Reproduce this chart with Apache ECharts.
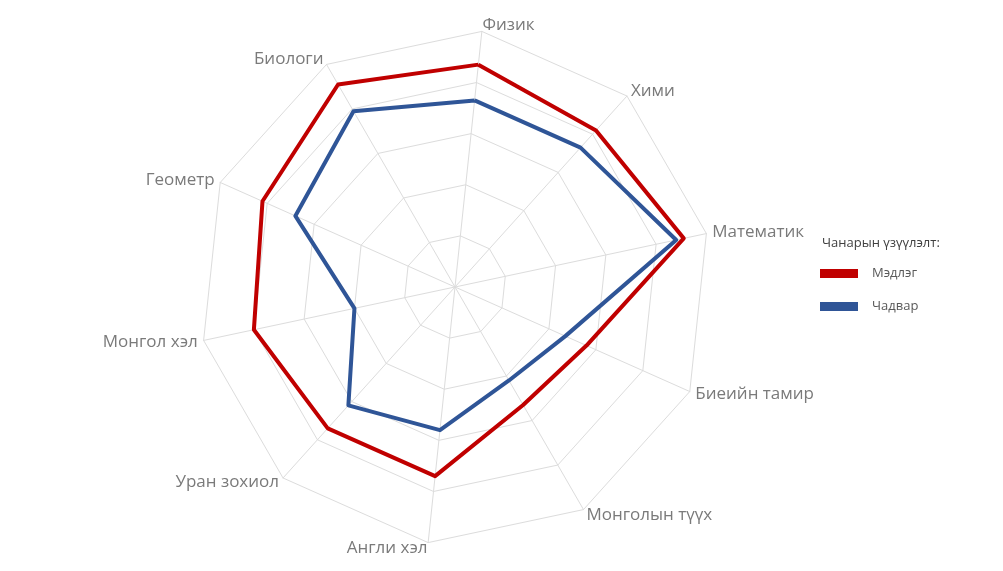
<!DOCTYPE html>
<html>
<head>
<meta charset="utf-8">
<title>Radar</title>
<script src="https://cdn.jsdelivr.net/npm/echarts@6/dist/echarts.min.js"></script>
<style>
  html, body { margin: 0; padding: 0; background: #fff; }
  #radarChart { width: 1003px; height: 571px; }
</style>
</head>
<body>
<div id="radarChart"></div>
<script>
// subjects listed counterclockwise from the top (radar lays them out that way)
var subjects = ['Физик', 'Биологи', 'Геометр', 'Монгол хэл', 'Уран зохиол',
                'Англи хэл', 'Монголын түүх', 'Биеийн тамир', 'Математик', 'Хими'];
var knowledge = [87, 91, 82, 80, 74, 74, 53, 56, 91, 82];   // Мэдлэг
var ability   = [73, 79, 68, 40, 62, 56, 42, 47, 88, 73];   // Чадвар
var seriesNames = ['Мэдлэг', 'Чадвар'];
var legendTitle = 'Чанарын үзүүлэлт:';
var maxValue = 100;

var chartDom = document.getElementById('radarChart');
var myChart = echarts.init(chartDom);
var option;

option = {
    backgroundColor: '#fff',
    animation: false,
    title: {
        text: legendTitle,
        left: 817,
        top: 232,
        textStyle: {
            fontFamily: 'Open Sans',
            fontSize: 13,
            fontWeight: 'normal',
            color: '#404040'
        }
    },
    legend: {
        orient: 'vertical',
        left: 820,
        top: 267,
        padding: 0,
        icon: 'rect',
        itemWidth: 38,
        itemHeight: 9,
        itemGap: 20,
        data: seriesNames,
        textStyle: {
            fontFamily: 'Open Sans',
            fontSize: 13,
            color: '#595959',
            padding: [0, 0, 0, 9]
        }
    },
    radar: {
        center: [455, 287],
        radius: 257,
        startAngle: 84,
        splitNumber: 5,
        shape: 'polygon',
        nameGap: 6,
        axisName: {
            fontFamily: 'Open Sans',
            fontSize: 17,
            color: '#7a7a7a'
        },
        indicator: subjects.map(function (s) {
            return { name: s, max: maxValue };
        }),
        axisLine: { lineStyle: { color: '#dcdcdc', width: 1 } },
        splitLine: { lineStyle: { color: '#dcdcdc', width: 1 } },
        splitArea: { show: false }
    },
    series: [
        {
            type: 'radar',
            symbol: 'none',
            data: [
                {
                    name: seriesNames[0],
                    value: knowledge,
                    lineStyle: { color: '#c00000', width: 4 },
                    itemStyle: { color: '#c00000' }
                },
                {
                    name: seriesNames[1],
                    value: ability,
                    lineStyle: { color: '#2f5597', width: 4 },
                    itemStyle: { color: '#2f5597' }
                }
            ]
        }
    ]
};

option && myChart.setOption(option);
</script>
</body>
</html>
